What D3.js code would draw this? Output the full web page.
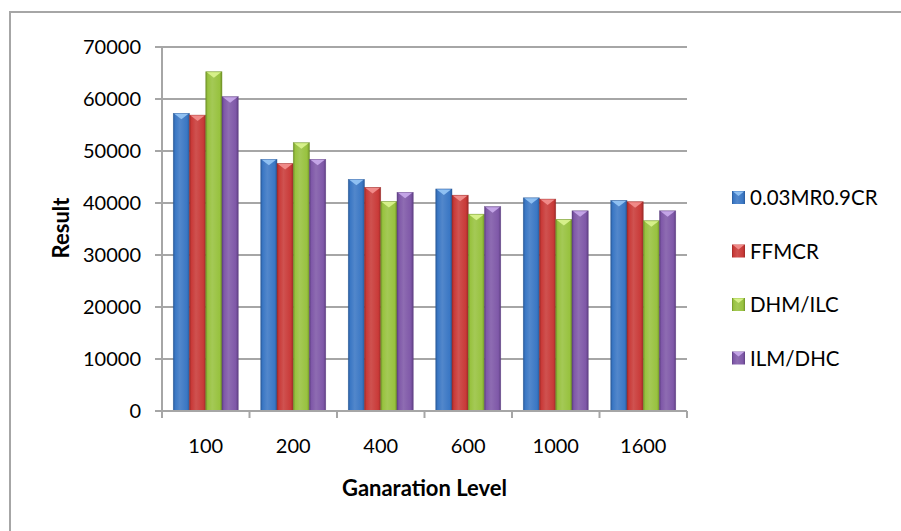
<!DOCTYPE html>
<html><head><meta charset="utf-8">
<script src="https://cdn.jsdelivr.net/npm/d3@7"></script>
<style>body{margin:0;background:#fff}svg{display:block}</style>
</head><body><svg id="c" width="901" height="531"></svg>
<script>
const categories = ["100","200","400","600","1000","1600"];
const seriesNames = ["0.03MR0.9CR","FFMCR","DHM/ILC","ILM/DHC"];
const s1 = [57250, 48400, 44550, 42700, 41000, 40500];
const s2 = [56900, 47600, 43000, 41500, 40750, 40250];
const s3 = [65250, 51600, 40300, 37850, 36850, 36600];
const s4 = [60450, 48400, 42050, 39300, 38500, 38500];
const seriesValues = [s1, s2, s3, s4];
const yTicks = [0,10000,20000,30000,40000,50000,60000,70000];
const colors = ["#3a77c4","#c93a38","#98c23f","#7f58a8"];
const lights = ["#8fc0f2","#f08a88","#d6f08a","#c3a4e6"];
const darks = ["#2a5a99","#9c2a28","#6f9128","#5e3f82"];

const svg = d3.select("#c");
const font = "Lato, 'Open Sans', sans-serif";
const L = 162, R = 687, T = 47, B = 411;

// outer border
svg.append("rect").attr("x",10).attr("y",12).attr("width",1000).attr("height",1000)
  .attr("fill","none").attr("stroke","#a6a6a6").attr("stroke-width",2);

const y = d3.scaleLinear().domain([0,70000]).range([B,T]);
const x = d3.scaleBand().domain(categories).range([L,R]).paddingInner(0).paddingOuter(0);
const xs = d3.scaleBand().domain(d3.range(4)).range([11.25, x.bandwidth()-11.25]);

// gradients
const defs = svg.append("defs");
colors.forEach((c,i)=>{
  const g = defs.append("linearGradient").attr("id","g"+i).attr("x1","0").attr("x2","1").attr("y1","0").attr("y2","0");
  g.append("stop").attr("offset","0").attr("stop-color",darks[i]);
  g.append("stop").attr("offset","0.12").attr("stop-color",c);
  g.append("stop").attr("offset","0.4").attr("stop-color",d3.interpolateRgb(c,"#ffffff")(0.12));
  g.append("stop").attr("offset","0.85").attr("stop-color",c);
  g.append("stop").attr("offset","1").attr("stop-color",darks[i]);
});

// gridlines
svg.append("g").selectAll("line").data(yTicks.filter(d=>d>0)).join("line")
  .attr("x1",L).attr("x2",R).attr("y1",d=>y(d)).attr("y2",d=>y(d))
  .attr("stroke","#a6a6a6").attr("stroke-width",2);

// bars
const groups = svg.append("g").selectAll("g").data(categories).join("g")
  .attr("transform",d=>`translate(${x(d)},0)`);
groups.each(function(cat,ci){
  const g = d3.select(this);
  seriesValues.forEach((vals,si)=>{
    const v = vals[ci];
    const bx = xs(si), bw = xs.bandwidth();
    g.append("rect").attr("x",bx).attr("y",y(v)).attr("width",bw).attr("height",B-y(v))
      .attr("fill",`url(#g${si})`).attr("stroke",darks[si]).attr("stroke-width",0.6).attr("stroke-opacity",0.7);
    g.append("path").attr("d",`M${bx+1},${y(v)+0.5}L${bx+bw-1},${y(v)+0.5}L${bx+bw/2},${y(v)+6}Z`)
      .attr("fill",lights[si]);
  });
});

// y axis
svg.append("line").attr("x1",L).attr("x2",L).attr("y1",T).attr("y2",B).attr("stroke","#a6a6a6").attr("stroke-width",2);
svg.append("g").selectAll("line").data(yTicks).join("line")
  .attr("x1",L-7).attr("x2",L).attr("y1",d=>y(d)).attr("y2",d=>y(d)).attr("stroke","#a6a6a6").attr("stroke-width",2);
svg.append("g").selectAll("text").data(yTicks).join("text")
  .attr("x",141).attr("y",d=>y(d)).attr("dy","0.36em").attr("text-anchor","end")
  .attr("font-family",font).attr("font-size",20).attr("fill","#000").text(d=>d);

// x axis
svg.append("line").attr("x1",L).attr("x2",R).attr("y1",B).attr("y2",B).attr("stroke","#a6a6a6").attr("stroke-width",2);
const xt = categories.map(c=>x(c)).concat([x.range()[1]]);
svg.append("g").selectAll("line").data(xt).join("line")
  .attr("x1",d=>d).attr("x2",d=>d).attr("y1",B).attr("y2",B+7).attr("stroke","#a6a6a6").attr("stroke-width",2);
svg.append("g").selectAll("text").data(categories).join("text")
  .attr("x",d=>x(d)+x.bandwidth()/2).attr("y",453).attr("text-anchor","middle")
  .attr("font-family",font).attr("font-size",20).attr("fill","#000").text(d=>d);

// axis titles
svg.append("text").attr("x",424.5).attr("y",496).attr("text-anchor","middle")
  .attr("font-family",font).attr("font-weight","bold").attr("font-size",22).text("Ganaration Level");
svg.append("text").attr("transform","translate(69,228) rotate(-90)").attr("text-anchor","middle")
  .attr("font-family",font).attr("font-weight","bold").attr("font-size",22).text("Result");

// legend
const leg = svg.append("g").selectAll("g").data(seriesNames).join("g")
  .attr("transform",(d,i)=>`translate(732,${198+i*53.5})`);
leg.append("rect").attr("x",0).attr("y",-7).attr("width",13).attr("height",13)
  .attr("fill",(d,i)=>`url(#g${i})`);
leg.append("path").attr("d","M1,-6.5L12,-6.5L6.5,-2Z").attr("fill",(d,i)=>lights[i]);
leg.append("text").attr("x",18).attr("y",0).attr("dy","0.36em")
  .attr("font-family",font).attr("font-size",20.5).attr("fill","#000").text(d=>d);
</script></body></html>
